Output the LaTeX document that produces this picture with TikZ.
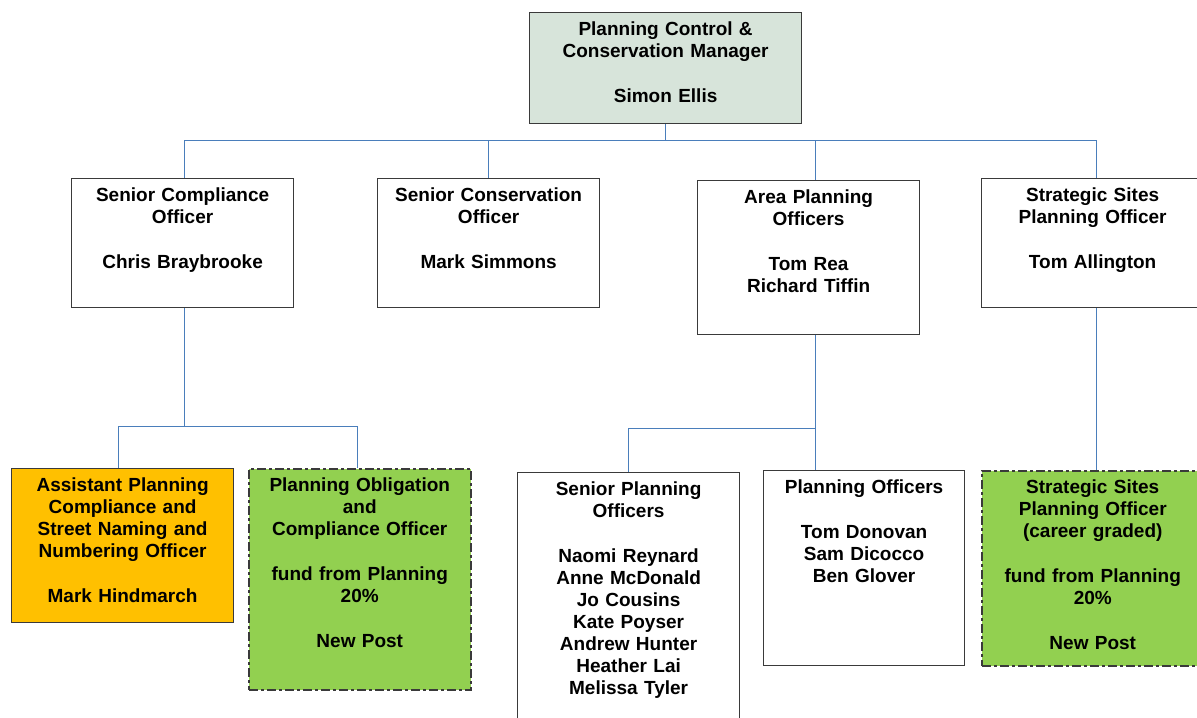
\documentclass[tikz,border=0pt]{standalone}
\usepackage{fontspec}
\setmainfont{Liberation Sans}
\usepackage{xcolor}
\usepackage{tikz}

\definecolor{mgrfill}{HTML}{D7E4DA}
\definecolor{asstfill}{HTML}{FFC000}
\definecolor{newfill}{HTML}{92D050}
\definecolor{boxline}{HTML}{3A3A3A}
\definecolor{linkblue}{HTML}{4A7EBB}

\tikzset{
  post/.style={draw=boxline, line width=0.6pt, anchor=north west, align=center,
    text width=107pt, inner xsep=2pt, inner ysep=3pt, text height=8.5pt,
    font=\fontsize{9.5}{11}\selectfont\bfseries},
  newpost/.style={post, line width=0.75pt, fill=newfill, dash pattern=on 4.5pt off 1.5pt on 1.5pt off 1.5pt},
  link/.style={draw=linkblue, line width=0.7pt},
}

\begin{document}
\begin{tikzpicture}[x=0.5pt,y=-0.5pt]

\useasboundingbox (0,0) rectangle (1197,717);

% top
\node[post, fill=mgrfill, text width=132pt, text depth=41pt] (mgr) at (529,12)
  {Planning Control \&\\ Conservation Manager\\[11.5pt] Simon Ellis};

% second row
\node[post, text depth=50pt] (sco) at (71,178)
  {Senior Compliance\\ Officer\\[11.5pt] Chris Braybrooke};
\node[post, text depth=50pt] (scons) at (377,178)
  {Senior Conservation\\ Officer\\[11.5pt] Mark Simmons};
\node[post, text depth=62.5pt] (apo) at (697,180)
  {Area Planning\\ Officers\\[11.5pt] Tom Rea\\ Richard Tiffin};
\node[post, text depth=50pt] (sspo) at (981,178)
  {Strategic Sites\\ Planning Officer\\[11.5pt] Tom Allington};

% third row
\node[post, fill=asstfill, text depth=62.5pt] (asst) at (11,468)
  {Assistant Planning\\ Compliance and\\ Street Naming and\\ Numbering Officer\\[11.5pt] Mark Hindmarch};
\node[newpost, text depth=96pt] (poc) at (248,468)
  {Planning Obligation\\ and\\ Compliance Officer\\[11.5pt] fund from Planning\\ 20\%\\[11.5pt] New Post};
\node[post, text depth=110.5pt] (spo) at (517,472)
  {Senior Planning\\ Officers\\[11.5pt] Naomi Reynard\\ Anne McDonald\\ Jo Cousins\\ Kate Poyser\\ Andrew Hunter\\ Heather Lai\\ Melissa Tyler};
\node[post, text width=96.5pt, text depth=83pt] (po) at (763,470)
  {Planning Officers\\[11.5pt] Tom Donovan\\ Sam Dicocco\\ Ben Glover};
\node[newpost, text depth=83pt] (ssnew) at (981,470)
  {Strategic Sites\\ Planning Officer\\ (career graded)\\[11.5pt] fund from Planning\\ 20\%\\[11.5pt] New Post};

% links
\draw[link] (mgr.south) -- ++(0,16) -| ([xshift=1pt]sco.north);
\draw[link] (mgr.south) -- ++(0,16) -| (scons.north);
\draw[link] (mgr.south) -- ++(0,16) -| ([xshift=3.5pt]apo.north);
\draw[link] (mgr.south) -- ++(0,16) -| ([xshift=2pt]sspo.north);

\draw[link] ([xshift=1pt]sco.south) -- ++(0,118) -| ([xshift=-2pt]asst.north);
\draw[link] ([xshift=1pt]sco.south) -- ++(0,118) -| ([xshift=-1pt]poc.north);

\draw[link] ([xshift=3.5pt]apo.south) -- ++(0,93) -| (spo.north);
\draw[link] ([xshift=3.5pt]apo.south) -- ([xshift=3.5pt]apo.south |- po.north);

\draw[link] ([xshift=2pt]sspo.south) -- ([xshift=2pt]sspo.south |- ssnew.north);

\end{tikzpicture}
\end{document}
